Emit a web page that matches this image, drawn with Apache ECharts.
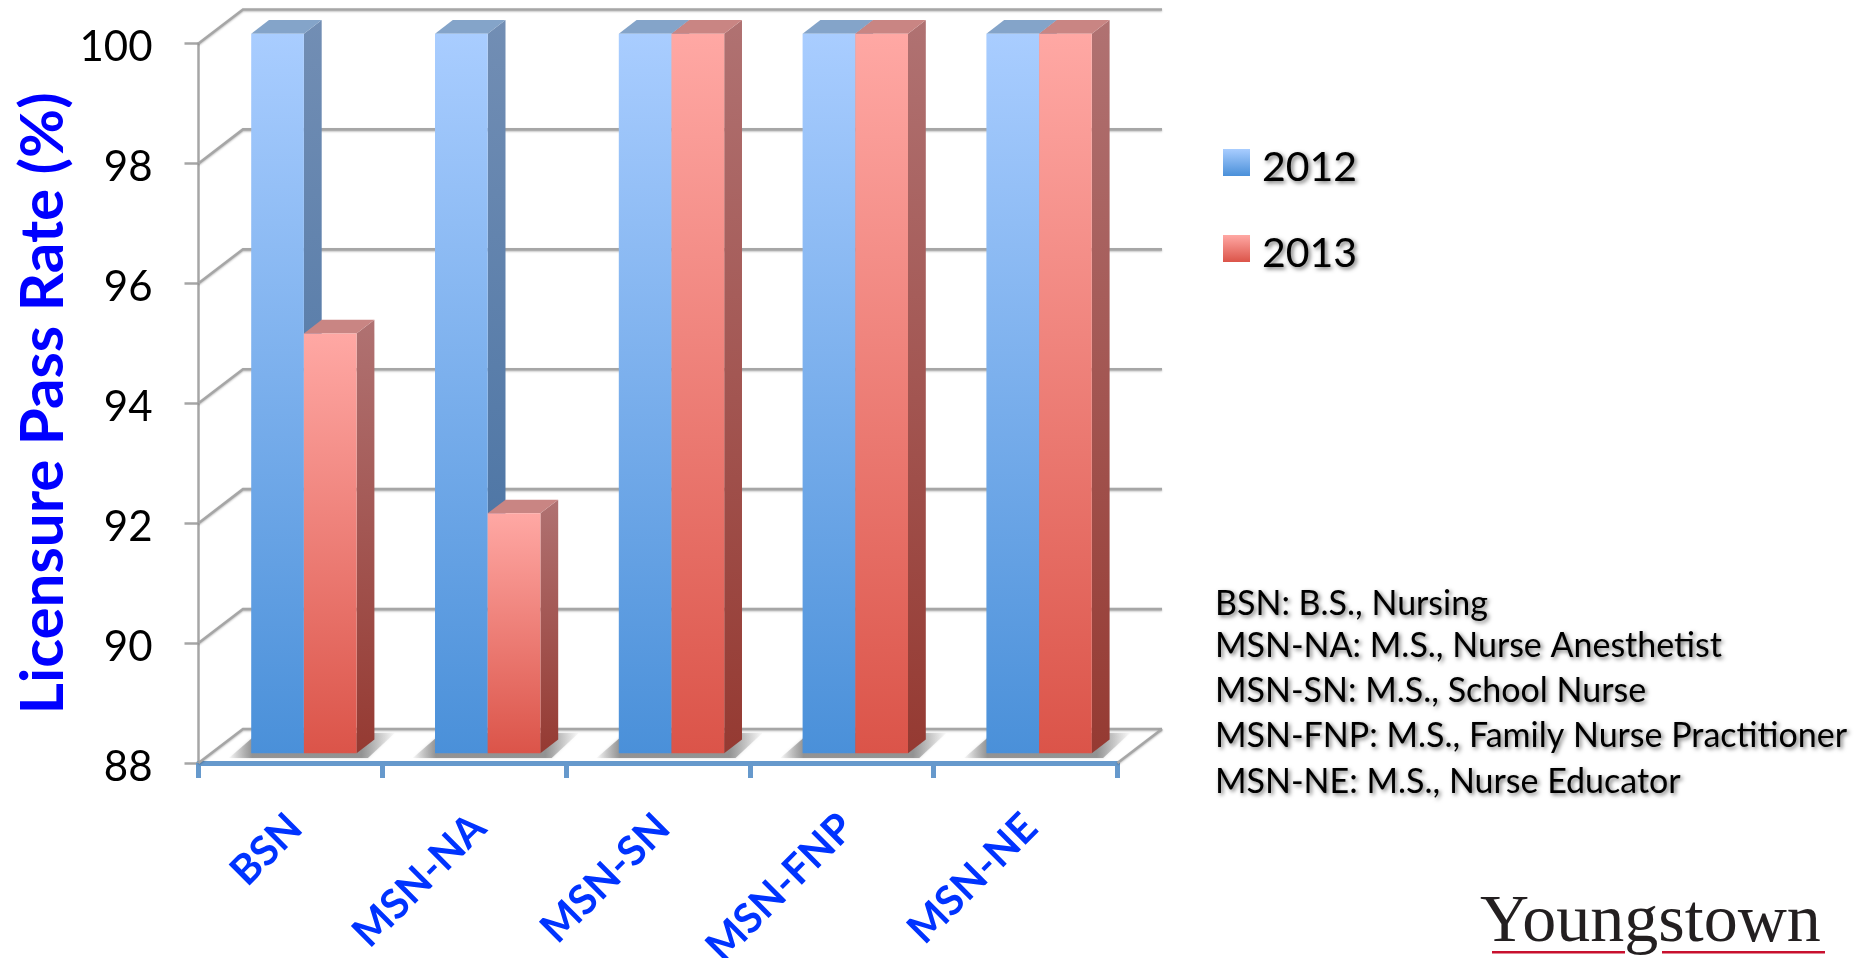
<!DOCTYPE html>
<html><head><meta charset="utf-8">
<style>html,body{margin:0;padding:0;background:#fff}#c{width:1856px;height:958px}</style>
<script src="https://cdn.jsdelivr.net/npm/echarts@6/dist/echarts.min.js"></script>
</head><body><div id="c"></div>
<script>
const categories = ['BSN','MSN-NA','MSN-SN','MSN-FNP','MSN-NE'];
const values2012 = [100,100,100,100,100];
const values2013 = [95,92,100,100,100];
const yTicks = [88,90,92,94,96,98,100];
const glossary = ['BSN: B.S., Nursing','MSN-NA: M.S., Nurse Anesthetist','MSN-SN: M.S., School Nurse','MSN-FNP: M.S., Family Nurse Practitioner','MSN-NE: M.S., Nurse Educator'];
const glossaryY = [603,645,690,735,781];
const yTitle = 'Licensure Pass Rate (%)';
const logoText = 'Youngstown';

const FONT = 'Lato';
const grad = (a,b)=>new echarts.graphic.LinearGradient(0,0,0,1,[{offset:0,color:a},{offset:1,color:b}]);
const palette = {
  2012:{front:['#A9CDFF','#4A90D9'],side:['#728EB4','#3F6C9F'],top:'#84A4C9'},
  2013:{front:['#FFA8A4','#DB5449'],side:['#B07272','#953A32'],top:'#C98583'}
};
const DX=44.5, DY=34;      // wall depth
const BAR_DX=17.8, BAR_DY=13.7; // bar depth
const BAR_W=52.7, SHIFT_X=13.5, SHIFT_Y=-9.8;

function barRenderer(key, sign){
  const p = palette[key];
  return function(params, api){
    const c = api.coord([api.value(0), api.value(1)]);
    const b = api.coord([api.value(0), 88]);
    const mid = c[0]+SHIFT_X;
    const xl = sign<0 ? mid-BAR_W : mid;
    const xr = xl+BAR_W;
    const yt = c[1]+SHIFT_Y, yb = b[1]+SHIFT_Y;
    return {type:'group',children:[
      {type:'polygon',shape:{points:[[xr,yt],[xr+BAR_DX,yt-BAR_DY],[xr+BAR_DX,yb-BAR_DY],[xr,yb]]},style:{fill:grad(p.side[0],p.side[1])}},
      {type:'polygon',shape:{points:[[xl,yt],[xl+BAR_DX,yt-BAR_DY],[xr+BAR_DX,yt-BAR_DY],[xr,yt]]},style:{fill:p.top}},
      {type:'rect',shape:{x:xl,y:yt,width:BAR_W,height:yb-yt},style:{fill:grad(p.front[0],p.front[1])}}
    ]};
  };
}
function wallRenderer(params, api){
  const y = api.coord([0, api.value(0)])[1];
  const x0 = params.coordSys.x, x1 = x0+params.coordSys.width;
  const line = {stroke:'#A6A6A6',lineWidth:2.6,fill:null,shadowBlur:2,shadowColor:'rgba(0,0,0,.25)',shadowOffsetY:1};
  const children=[{type:'polyline',shape:{points:[[x0,y],[x0+DX,y-DY],[x1+DX,y-DY]]},style:line}];
  if(api.value(0)===88) children.push({type:'line',shape:{x1:x1,y1:y,x2:x1+DX,y2:y-DY},style:line});
  return {type:'group',children};
}
function shadowRenderer(params, api){
  const c = api.coord([api.value(0),88]);
  const m = c[0]+SHIFT_X, y=c[1];
  const fill = new echarts.graphic.LinearGradient(0,0,1,0,[
    {offset:0,color:'rgba(150,150,150,0.05)'},{offset:.14,color:'rgba(135,135,135,0.85)'},
    {offset:.8,color:'rgba(135,135,135,0.85)'},{offset:1,color:'rgba(170,170,170,0.05)'}]);
  return {type:'polygon',shape:{points:[[m-75,y-5],[m-46,y-30],[m+91,y-30],[m+64,y-5]]},
    style:{fill:fill,shadowBlur:3,shadowColor:'rgba(160,160,160,.5)'}};
}
const textShadow = {textShadowColor:'rgba(0,0,0,.55)',textShadowBlur:4,textShadowOffsetX:2,textShadowOffsetY:2};

const graphic = glossary.map((t,i)=>({type:'text',left:1215,top:glossaryY[i]-16,
  style:Object.assign({text:t,font:'34px '+FONT,fill:'#000'},textShadow)}));
graphic.push({type:'text',left:1480,top:889,style:{text:logoText,font:'68px "Liberation Serif"',fill:'#231F20'}});
graphic.push({type:'rect',left:1492,top:951,shape:{width:133,height:2.5},style:{fill:'#C8102E'}});
graphic.push({type:'rect',left:1662,top:951,shape:{width:163,height:2.5},style:{fill:'#C8102E'}});

const chart = echarts.init(document.getElementById('c'),null,{renderer:'canvas'});
chart.setOption({
  animation:false,
  backgroundColor:'#fff',
  grid:{left:198.5,top:43.5,width:919,height:719.5,outerBoundsMode:'none'},
  legend:{left:1218,top:142,orient:'vertical',icon:'rect',itemWidth:27,itemHeight:27,itemGap:45,
    formatter:'{t|{name}}',
    textStyle:{rich:{t:Object.assign({fontFamily:FONT,fontSize:41,color:'#000',padding:[10,0,0,7]},textShadow)}},
    data:[{name:'2012',itemStyle:{color:grad(palette[2012].front[0],palette[2012].front[1])}},
          {name:'2013',itemStyle:{color:grad(palette[2013].front[0],palette[2013].front[1])}}]},
  xAxis:{type:'category',data:categories,boundaryGap:true,
    axisLine:{lineStyle:{color:'#6699CC',width:5}},
    axisTick:{show:true,alignWithLabel:false,length:15,lineStyle:{color:'#6699CC',width:5}},
    splitLine:{show:false},
    axisLabel:{interval:0,rotate:45,margin:63,fontFamily:FONT,fontWeight:'bold',fontSize:41,color:'#0033FF',padding:[0,-7,0,0]}},
  yAxis:{type:'value',min:88,max:100,interval:2,
    name:yTitle,nameLocation:'middle',nameRotate:90,nameGap:125,
    nameTextStyle:{fontFamily:FONT,fontWeight:'bold',fontSize:60,color:'#0000FF'},
    axisLine:{show:true,lineStyle:{color:'#A6A6A6',width:2.5}},
    axisTick:{show:true,length:14,lineStyle:{color:'#A6A6A6',width:2.5}},
    splitLine:{show:false},
    axisLabel:{margin:46,formatter:'{v|{value}}',
      rich:{v:{fontFamily:FONT,fontSize:42,color:'#000',padding:[8,0,0,0]}}}},
  series:[
    {type:'custom',name:'wall',z:1,silent:true,renderItem:wallRenderer,data:yTicks.map(v=>[v]),encode:{y:0}},
    {type:'custom',name:'shadow',z:2,silent:true,renderItem:shadowRenderer,data:categories.map((c,i)=>[i,88]),encode:{x:0,y:1}},
    {type:'custom',name:'2012',z:3,renderItem:barRenderer(2012,-1),data:values2012.map((v,i)=>[i,v]),encode:{x:0,y:1}},
    {type:'custom',name:'2013',z:4,renderItem:barRenderer(2013,1),data:values2013.map((v,i)=>[i,v]),encode:{x:0,y:1}}
  ],
  graphic:graphic
});
</script></body></html>
